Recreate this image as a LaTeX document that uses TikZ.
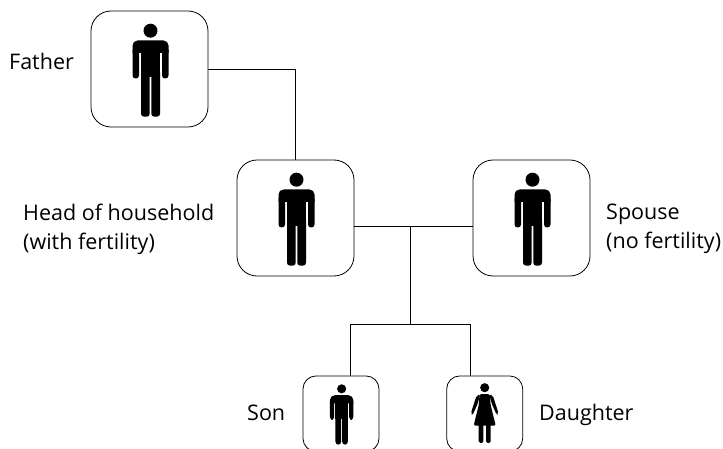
\documentclass[tikz,border=0pt]{standalone}
\usepackage{fontspec}
\setmainfont{Open Sans}
\usetikzlibrary{positioning,calc}

\tikzset{
  person_box/.style={draw,rounded corners=#1,inner sep=0pt,line width=0.8pt},
  person_label/.style={align=left,anchor=base west,font=\fontsize{21.5}{29}\selectfont,inner sep=0pt},
  link/.style={draw,line width=0.8pt},
  man/.pic={
    \fill (1,-38.3) circle (7);
    \fill (-17,-16) [rounded corners=5] -- (-17,-28.5) -- (19,-28.5) [sharp corners] -- (19,-16) -- cycle;
    \fill[rounded corners=3] (-17,-22) rectangle (-10.5,9.5);
    \fill[rounded corners=3] (12.5,-22) rectangle (19,9.5);
    \fill (-8.5,-20) rectangle (10.5,8);
    \fill[rounded corners=3] (-8.5,0) rectangle (0.2,47.7);
    \fill[rounded corners=3] (1.8,0) rectangle (10.5,47.7);
  },
  woman/.pic={
    \fill (0,-40) circle (7);
    \fill[rounded corners=1.5] (-8,-30) -- (8,-30) -- (9,-14) -- (17,18.5) -- (-17,18.5) -- (-9,-14) -- cycle;
    \fill[rounded corners=2] (7,-30) -- (12.5,-28) -- (21.5,0) -- (18.5,2) -- (10.5,-16) -- cycle;
    \fill[rounded corners=2] (-7,-30) -- (-12.5,-28) -- (-21.5,0) -- (-18.5,2) -- (-10.5,-16) -- cycle;
    \fill[rounded corners=1.5] (-9.2,10) rectangle (-2,45);
    \fill[rounded corners=1.5] (2,10) rectangle (9.2,45);
  }
}

\begin{document}
\begin{tikzpicture}[x=1pt,y=-1pt]
  \useasboundingbox (0,0) rectangle (723,449);

  % boxes
  \node[person_box=20pt,minimum width=117pt,minimum height=116pt] (father) at (149.5,69) {};
  \node[person_box=20pt,minimum width=117pt,minimum height=116pt] (head) at (295.5,218) {};
  \node[person_box=20pt,minimum width=117pt,minimum height=116pt] (spouse) at (531.5,218) {};
  \node[person_box=13pt,minimum width=76pt,minimum height=75.5pt] (son) at (341,413.7) {};
  \node[person_box=13pt,minimum width=76pt,minimum height=75.5pt] (daughter) at (484.7,413.7) {};

  % figures
  \pic at (father) {man};
  \pic at (head) {man};
  \pic at (spouse) {man};
  \pic[scale=0.65] at (son) {man};
  \pic[scale=0.65] at (daughter) {woman};

  % labels
  \node[person_label] (father_label) at (9,70) {Father};
  \node[person_label,anchor=west] (head_label) at (23,229) {Head of household\\(with fertility)};
  \node[person_label,anchor=west] (spouse_label) at (606,229) {Spouse\\(no fertility)};
  \node[person_label] (son_label) at (247,420) {Son};
  \node[person_label] (daughter_label) at (539,420) {Daughter};

  % connectors
  \coordinate (couple) at (410.5,226.5);
  \coordinate (split) at (410.5,324);
  \coordinate (son_link) at (350,324);
  \coordinate (daughter_link) at (470,324);
  \draw[link] (father.east) -| (head.north);
  \draw[link] (couple -| head.east) -- (couple -| spouse.west);
  \draw[link] (couple) -- (split);
  \draw[link] (son.north -| son_link) |- (daughter_link) -- (daughter.north -| daughter_link);
\end{tikzpicture}
\end{document}
